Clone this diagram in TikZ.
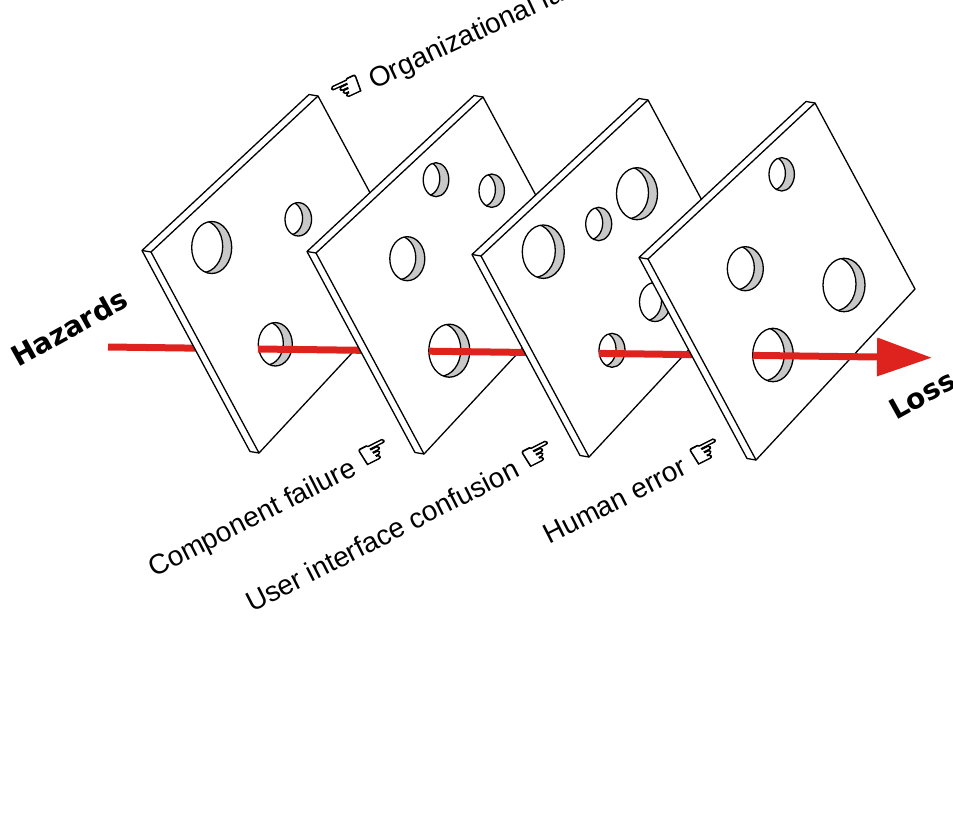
\documentclass[tikz,border=0pt]{standalone}
\usepackage{fontspec}
\setmainfont{Liberation Sans}
\newfontfamily\dejavu{DejaVu Sans}
\newfontfamily\handfont[FakeBold=2]{DejaVu Sans}
\usepackage{xcolor}
\usepackage{tikz}
\usetikzlibrary{calc}
\usetikzlibrary{arrows.meta}
\definecolor{flowred}{RGB}{222,34,30}
\definecolor{holegray}{RGB}{200,200,200}
\newcommand{\hand}[1]{{\handfont\fontsize{38}{40}\selectfont #1}}

\begin{document}
\begin{tikzpicture}[x=1pt, y=-1pt,
  edge/.style={draw=black, line width=1.3pt, line join=round},
  flow/.style={draw=flowred, line width=7pt},
  tag/.style={anchor=base west, inner sep=0pt, rotate=27, font=\fontsize{28}{30}\selectfont},
  risk/.style={anchor=base west, inner sep=0pt, rotate=29, font=\dejavu\bfseries\fontsize{28}{30}\selectfont},
  plate/.pic={
    \fill[white] (-9,-1.5) -- (-176,154.5) -- (-68,355.5) -- (-59,357) -- (100,186) -- (0,0) -- cycle;
    \draw[edge] (0,0) -- (-167,156) -- (-59,357) -- (100,186) -- cycle;
    \draw[edge] (0,0) -- (-9,-1.5) -- (-176,154.5) -- (-68,355.5) -- (-59,357);
    \draw[edge] (-167,156) -- (-176,154.5);
  }]
  \useasboundingbox (0,0) rectangle (953,819);

  % path of the hazard
  \coordinate (haz) at (108,347);
  \coordinate (p0) at (200,348.2);
  \coordinate (h1) at (258,349);
  \coordinate (p1) at (400,350.8);
  \coordinate (h2) at (429,351.2);
  \coordinate (p2) at (560,352.9);
  \coordinate (h3) at (599,353.4);
  \coordinate (p3) at (720,355);
  \coordinate (h4) at (753,355.4);
  \coordinate (loss) at (932,357.7);

  \draw[flow] (haz) -- (p0);

  % first slice
  \pic at (318,96) {plate};
  \foreach \x/\y/\a/\b in {211.7/247.5/20/26, 298.3/219.3/13.3/16.7, 275.3/344.3/17/21.7}{
    \fill[holegray] (\x,\y) ellipse [x radius=\a, y radius=\b];
    \begin{scope}
      \clip (\x,\y) ellipse [x radius=\a, y radius=\b];
      \filldraw[fill=white, edge] (\x-9,\y-1) ellipse [x radius=\a, y radius=\b];
    \end{scope}
    \draw[edge] (\x,\y) ellipse [x radius=\a, y radius=\b];
  }
  \draw[flow] (h1) -- (p1);

  % second slice
  \pic at (483,97) {plate};
  \foreach \x/\y/\a/\b in {436/179.7/12.8/17, 491.7/190.7/12.7/16.7, 407.3/258.7/17.5/22, 449.3/350.7/20.5/26.5}{
    \fill[holegray] (\x,\y) ellipse [x radius=\a, y radius=\b];
    \begin{scope}
      \clip (\x,\y) ellipse [x radius=\a, y radius=\b];
      \filldraw[fill=white, edge] (\x-9,\y-1) ellipse [x radius=\a, y radius=\b];
    \end{scope}
    \draw[edge] (\x,\y) ellipse [x radius=\a, y radius=\b];
  }
  \draw[flow] (h2) -- (p2);

  % third slice
  \pic at (648,100) {plate};
  \foreach \x/\y/\a/\b in {543.3/251.7/21/26.7, 598.7/224/13/16.7, 637/193.7/20.5/26, 655/302/15.5/19.5, 612/350.3/13/17}{
    \fill[holegray] (\x,\y) ellipse [x radius=\a, y radius=\b];
    \begin{scope}
      \clip (\x,\y) ellipse [x radius=\a, y radius=\b];
      \filldraw[fill=white, edge] (\x-9,\y-1) ellipse [x radius=\a, y radius=\b];
    \end{scope}
    \draw[edge] (\x,\y) ellipse [x radius=\a, y radius=\b];
  }
  \draw[flow] (h3) -- (p3);

  % fourth slice
  \pic at (815,103) {plate};
  \foreach \x/\y/\a/\b in {781.7/174.3/12.7/16.7, 745.3/268.7/18/22, 844/285/21/26.7, 773/355/20.3/26.7}{
    \fill[holegray] (\x,\y) ellipse [x radius=\a, y radius=\b];
    \begin{scope}
      \clip (\x,\y) ellipse [x radius=\a, y radius=\b];
      \filldraw[fill=white, edge] (\x-9,\y-1) ellipse [x radius=\a, y radius=\b];
    \end{scope}
    \draw[edge] (\x,\y) ellipse [x radius=\a, y radius=\b];
  }
  \draw[flow, -{Triangle[length=55pt,width=37pt]}] (h4) -- (loss);

  % labels
  \node[risk] (hazards) at (18,368) {Hazards};
  \node[risk] (losslabel) at (896,421) {Loss};
  \node[tag, rotate=-2] (orga) at (336,107) {\hand{☜} Organizational factors};
  \node[tag] (component) at (154,578) {Component failure \hand{☞}};
  \node[tag] (interface) at (252,613) {User interface confusion \hand{☞}};
  \node[tag] (human) at (549,545) {Human error \hand{☞}};
\end{tikzpicture}
\end{document}
